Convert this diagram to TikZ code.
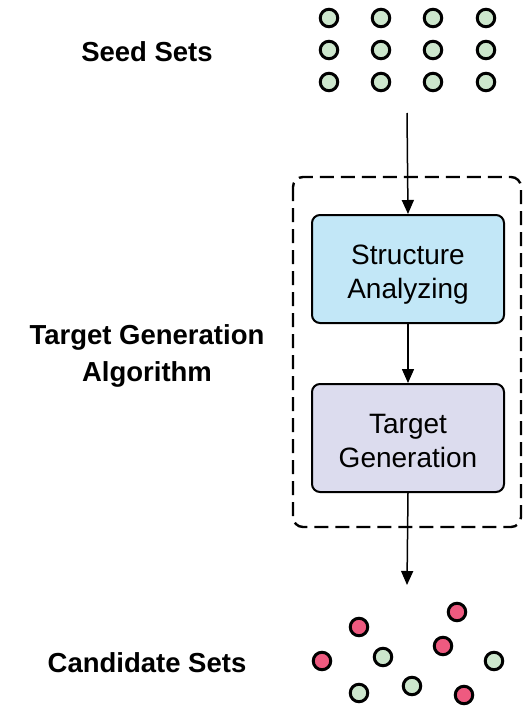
\documentclass[tikz,border=0pt]{standalone}
\usepackage{fontspec}
\setmainfont{Liberation Sans}
\usetikzlibrary{arrows.meta}
\definecolor{seedgreen}{HTML}{CCE6CC}
\definecolor{candpink}{HTML}{EE5A80}
\definecolor{stepblue}{HTML}{C2E7F7}
\definecolor{steplav}{HTML}{DCDCEE}
\newcommand{\boxlines}[2]{\raisebox{-6pt}[\height][\depth]{%
  \begin{tabular}{@{}c@{}}#1\\#2\end{tabular}}}
\tikzset{
  dot/.style={circle, draw=black, line width=3pt, minimum size=17.5pt, inner sep=0pt},
  seeddot/.style={dot, fill=seedgreen},
  newdot/.style={dot, fill=candpink},
  stepbox/.style={draw=black, line width=2pt, rounded corners=8pt,
    minimum width=192pt, minimum height=108pt, inner sep=0pt,
    font=\fontsize{28}{34}\selectfont},
  sidelabel/.style={font=\fontsize{27.5}{37}\selectfont\bfseries, align=center},
  flow/.style={line width=1.5pt, -{Triangle[length=14pt,width=12pt]}},
}
\begin{document}
\begin{tikzpicture}[x=1pt, y=-1pt]
\useasboundingbox (0,0) rectangle (529,707);

% seed sets: 4 x 3 grid
\foreach \c [count=\i] in {329,381,433,486}
  \foreach \r [count=\j] in {18,50,82}
    \node[seeddot] (s\i\j) at (\c,\r) {};

% processing stages
\node[stepbox, fill=stepblue] (sa) at (408,269) {\boxlines{Structure}{Analyzing}};
\node[stepbox, fill=steplav] (tg) at (408,438) {\boxlines{Target}{Generation}};

% dashed frame around the algorithm
\draw[line width=2.4pt, dash pattern=on 14pt off 7pt, rounded corners=10pt]
  (293,177) rectangle (521,527);

% connectors
\coordinate (in) at (407,113);
\coordinate (out) at (407,585);
\draw[flow] (in) -- (sa.north);
\draw[flow] (sa.south) -- (tg.north);
\draw[flow] (tg.south) -- (out);

% candidate sets
\node[newdot] (c1) at (359,627) {};
\node[newdot] (c2) at (457,612) {};
\node[newdot] (c3) at (443,646) {};
\node[newdot] (c4) at (322,661) {};
\node[newdot] (c5) at (464,695) {};
\node[seeddot] (c6) at (383,657) {};
\node[seeddot] (c7) at (494,661) {};
\node[seeddot] (c8) at (359,693) {};
\node[seeddot] (c9) at (412,686) {};

% side labels
\node[sidelabel, anchor=base] (lseed) at (147,61) {Seed Sets};
\node[sidelabel] (lalg) at (147,356) {Target Generation\\Algorithm};
\node[sidelabel, anchor=base] (lcand) at (147,672) {Candidate Sets};
\end{tikzpicture}
\end{document}
